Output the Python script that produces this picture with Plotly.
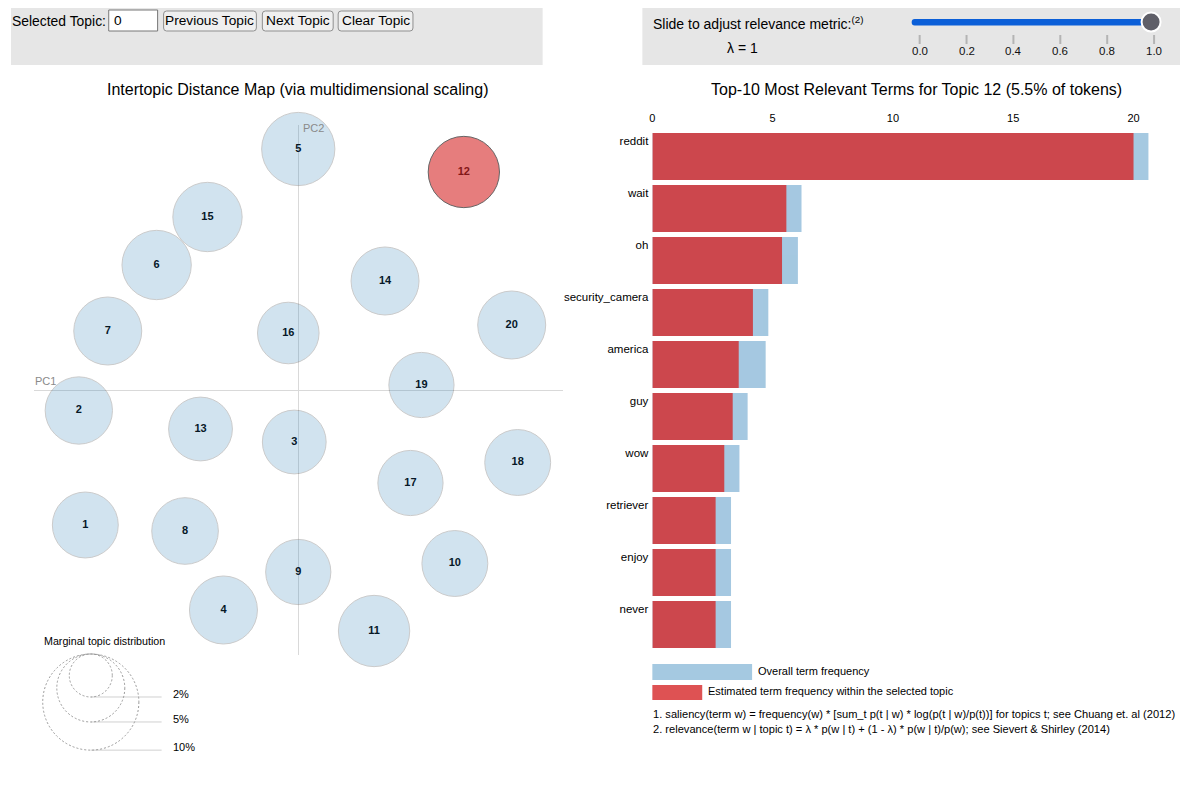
import numpy as np
import plotly.graph_objects as go

# ---------------- data ----------------
topic_ids = list(range(1, 21))
topic_pc1 = [-0.2135, -0.220, -0.004, -0.075, 0.000, -0.142, -0.191, -0.1135, 0.000, 0.157,
             0.076, 0.166, -0.098, 0.087, -0.091, -0.010, 0.1125, 0.220, 0.1235, 0.214]
topic_pc2 = [-0.135, -0.0205, -0.052, -0.220, 0.241, 0.125, 0.059, -0.141, -0.182, -0.1735,
             -0.241, 0.218, -0.039, 0.109, 0.173, 0.057, -0.093, -0.0725, 0.005, 0.065]
topic_freq = [4.7, 4.9, 4.4, 5.0, 5.8, 5.2, 5.0, 4.8, 4.6, 4.7,
              5.5, 5.5, 4.4, 5.0, 5.2, 4.1, 4.6, 4.7, 4.6, 5.0]
selected_topic = 12

terms = ["reddit", "wait", "oh", "security_camera", "america", "guy", "wow",
         "retriever", "enjoy", "never"]
overall_freq = [20.62, 6.2, 6.05, 4.82, 4.71, 3.96, 3.62, 3.27, 3.27, 3.27]
topic_term_freq = [20.0, 5.57, 5.39, 4.18, 3.59, 3.34, 2.99, 2.63, 2.63, 2.63]
bar_ticks = [0, 5, 10, 15, 20]
legend_pcts = [2, 5, 10]
lambda_ticks = [0.0, 0.2, 0.4, 0.6, 0.8, 1.0]
lambda_value = 1

# ---------------- layout helpers ----------------
W, H = 1172, 790
OFFX, OFFY = 10, 8
FONT = "Arial, Liberation Sans, sans-serif"
R0 = 15.2  # px radius per sqrt(percent)


def PX(x):
    return min(max((x - OFFX) / W, 0), 1)


def PY(y):
    return min(max(1 - (y - OFFY) / H, 0), 1)


annotations = []
shapes = []


def txt(x, y, s, size, color="black", xanchor="left", yanchor="middle"):
    annotations.append(dict(x=PX(x), y=PY(y), xref="paper", yref="paper", text=s,
                            showarrow=False, xanchor=xanchor, yanchor=yanchor,
                            borderpad=0,
                            font=dict(size=size, color=color, family=FONT)))


def rrect(x0, y0, x1, y1, r, fill, line_color=None, lw=1):
    rx, ry = r / W, r / H
    a0, a1 = PX(x0), PX(x1)
    b0, b1 = PY(y0), PY(y1)  # b0 top (larger), b1 bottom
    path = (f"M {a0+rx},{b0} L {a1-rx},{b0} Q {a1},{b0} {a1},{b0-ry} "
            f"L {a1},{b1+ry} Q {a1},{b1} {a1-rx},{b1} L {a0+rx},{b1} "
            f"Q {a0},{b1} {a0},{b1+ry} L {a0},{b0-ry} Q {a0},{b0} {a0+rx},{b0} Z")
    shapes.append(dict(type="path", path=path, xref="paper", yref="paper",
                       fillcolor=fill,
                       line=dict(color=line_color or fill, width=lw if line_color else 0),
                       layer="below"))


def rect(x0, y0, x1, y1, fill, line_color=None, lw=1, layer="below"):
    shapes.append(dict(type="rect", xref="paper", yref="paper",
                       x0=PX(x0), x1=PX(x1), y0=PY(y1), y1=PY(y0),
                       fillcolor=fill,
                       line=dict(color=line_color or fill, width=lw if line_color else 0),
                       layer=layer))


# ---------------- control bars ----------------
rect(3, 5, 543, 65, "#e6e6e6")
rect(643, 5, 1182, 65, "#e6e6e6")

txt(10, 21, "Selected Topic:", 13.9)
rect(108, 10, 157, 31, "white", "#767676", 1)
txt(112, 21, "0", 13.7)
buttons = [("Previous Topic", 163, 256), ("Next Topic", 262, 333), ("Clear Topic", 338, 413)]
for label, bx0, bx1 in buttons:
    rrect(bx0, 11, bx1, 31, 3, "#efefef", "#8f8f8f", 1)
    txt((bx0 + bx1) / 2, 21, label, 13.7, xanchor="center")

txt(653, 23, "Slide to adjust relevance metric:<sup>(2)</sup>", 14)
txt(743, 48, f"λ = {lambda_value}", 14, xanchor="center")

# slider
sx0, sx1 = 921, 1156
thumb_x = sx0 + (sx1 - sx0) * lambda_value - 3
rrect(913, 19, thumb_x, 25.5, 3, "#0b5fd8")
for v in lambda_ticks:
    tx = sx0 + (sx1 - sx0) * v
    shapes.append(dict(type="line", xref="paper", yref="paper",
                       x0=PX(tx), x1=PX(tx), y0=PY(35), y1=PY(44),
                       line=dict(color="#b4b4b4", width=2)))
    txt(tx, 51, f"{v:.1f}", 11.5, color="#111111", xanchor="center")
shapes.append(dict(type="circle", xref="paper", yref="paper",
                   xsizemode="pixel", ysizemode="pixel",
                   xanchor=PX(thumb_x), yanchor=PY(22),
                   x0=-9.5, x1=9.5, y0=-9.5, y1=9.5,
                   fillcolor="#5f5f68", line=dict(color="white", width=2)))

# ---------------- titles ----------------
txt(298, 89, "Intertopic Distance Map (via multidimensional scaling)", 16, xanchor="center")
sel_idx = topic_ids.index(selected_topic)
txt(918, 89, f"Top-10 Most Relevant Terms for Topic {selected_topic} "
             f"({topic_freq[sel_idx]:.1f}% of tokens)", 16, xanchor="center")

# PC labels
txt(33, 381, "PC1", 11, color="#8a8a8a")
txt(302, 128, "PC2", 11, color="#8a8a8a")

# ---------------- marginal topic distribution legend ----------------
txt(42, 641, "Marginal topic distribution", 10.7)
leg_cx, leg_top = 90, 654
for p in legend_pcts:
    r = R0 * np.sqrt(p)
    cy = leg_top + r
    shapes.append(dict(type="line", xref="paper", yref="paper",
                       x0=PX(leg_cx), x1=PX(161), y0=PY(leg_top + 2 * r), y1=PY(leg_top + 2 * r),
                       line=dict(color="#d0d0d0", width=1)))
    shapes.append(dict(type="circle", xref="paper", yref="paper",
                       xsizemode="pixel", ysizemode="pixel",
                       xanchor=PX(leg_cx), yanchor=PY(cy),
                       x0=-r, x1=r, y0=-r, y1=r,
                       line=dict(color="#9a9a9a", width=1, dash="2px,2px")))
    txt(171, leg_top + 2 * r - 3, f"{p}%", 11)

# ---------------- bar legend + footnotes ----------------
rect(653, 664, 753, 680, "#a5c9e1")
txt(758, 671, "Overall term frequency", 11)
rect(653, 685, 703, 700, "#de5253")
txt(708, 691, "Estimated term frequency within the selected topic", 11)
txt(653, 714, "1. saliency(term w) = frequency(w) * [sum_t p(t | w) * log(p(t | w)/p(t))] "
              "for topics t; see Chuang et. al (2012)", 11.1)
txt(653, 729, "2. relevance(term w | topic t) = λ * p(w | t) + (1 - λ) * p(w | t)/p(w); "
              "see Sievert & Shirley (2014)", 11.1)

# ---------------- traces ----------------
fig = go.Figure()

colors = ["#d62728" if t == selected_topic else "#1f77b4" for t in topic_ids]
opac = [0.6 if t == selected_topic else 0.2 for t in topic_ids]
sizes = [2 * R0 * np.sqrt(f) for f in topic_freq]

fig.add_trace(go.Scatter(
    x=topic_pc1, y=topic_pc2, mode="text", text=[f"<b>{t}</b>" for t in topic_ids],
    textfont=dict(size=11, color="black", family=FONT), cliponaxis=False,
    xaxis="x", yaxis="y", hoverinfo="skip", showlegend=False))
fig.add_trace(go.Scatter(
    x=topic_pc1, y=topic_pc2, mode="markers", cliponaxis=False,
    marker=dict(size=sizes, sizemode="diameter", color=colors, opacity=opac,
                line=dict(color="black", width=1)),
    xaxis="x", yaxis="y", showlegend=False))

ypos = list(range(len(terms)))
fig.add_trace(go.Bar(
    x=overall_freq, y=ypos, orientation="h", width=0.904,
    marker=dict(color="#1f77b4", line=dict(width=0)), opacity=0.4,
    xaxis="x2", yaxis="y2", showlegend=False))
fig.add_trace(go.Bar(
    x=topic_term_freq, y=ypos, orientation="h", width=0.904,
    marker=dict(color="#d62728", line=dict(width=0)), opacity=0.8,
    xaxis="x2", yaxis="y2", showlegend=False))

PX_PER_UNIT = 24.12
fig.update_layout(
    width=W, height=H, margin=dict(l=0, r=0, t=0, b=0),
    paper_bgcolor="white", plot_bgcolor="white",
    font=dict(family=FONT, color="black"),
    barmode="overlay",
    xaxis=dict(domain=[PX(33), PX(563)], range=[-0.265, 0.265], showgrid=False,
               zeroline=True, zerolinecolor="#d9d9d9", zerolinewidth=1,
               showticklabels=False, showline=False, ticks="", anchor="y"),
    yaxis=dict(domain=[PY(655), PY(125)], range=[-0.265, 0.265], showgrid=False,
               zeroline=True, zerolinecolor="#d9d9d9", zerolinewidth=1,
               showticklabels=False, showline=False, ticks="", anchor="x"),
    xaxis2=dict(domain=[PX(653), PX(1182)], range=[0, (1182 - 653) / PX_PER_UNIT], side="top",
                tickvals=bar_ticks, showgrid=False, zeroline=False, showline=False,
                ticks="", tickfont=dict(size=11), anchor="y2", ticklabelstandoff=5),
    yaxis2=dict(domain=[PY(650.5), PY(130.5)], range=[len(terms) - 0.5, -0.5],
                tickvals=[i - 0.3 for i in ypos], ticktext=terms, showgrid=False,
                zeroline=False, showline=False, ticks="", tickfont=dict(size=11.5),
                anchor="x2", ticklabelstandoff=3),
    shapes=shapes, annotations=annotations,
)

fig.write_html("out.html")
